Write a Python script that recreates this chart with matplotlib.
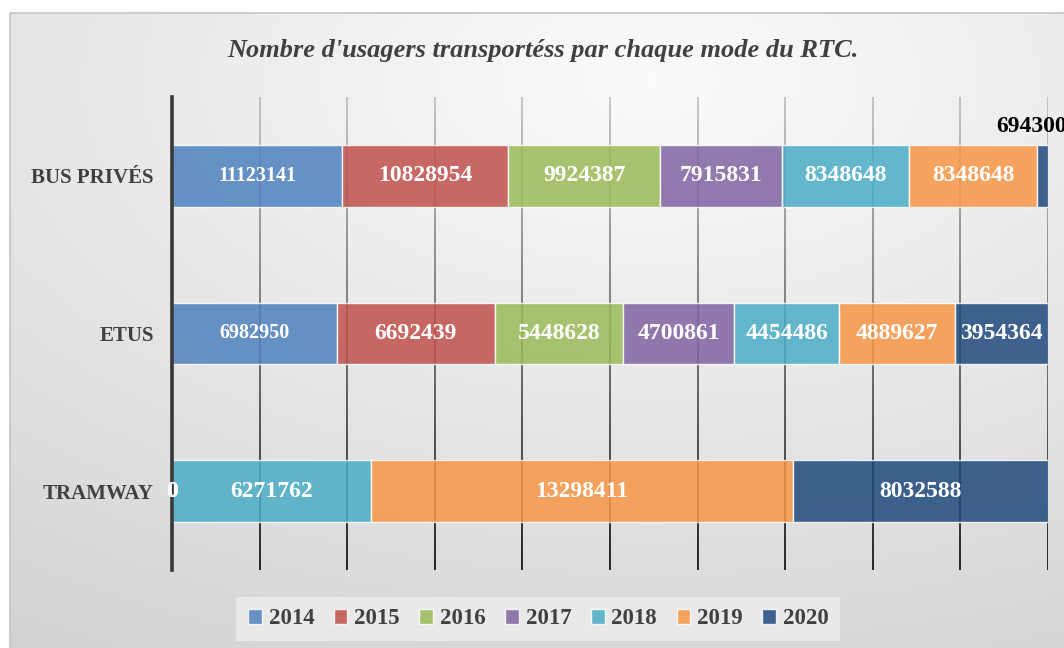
import numpy as np
import matplotlib
matplotlib.use('Agg')
import matplotlib.pyplot as plt
from matplotlib.collections import LineCollection
from matplotlib.patches import Patch, Rectangle

# Number of passengers per mode and per year (bottom to top on the chart)
modes = ['TRAMWAY', 'ETUS', 'BUS PRIVÉS']
years = ['2014', '2015', '2016', '2017', '2018', '2019', '2020']
y2014 = [0, 6982950, 11123141]
y2015 = [0, 6692439, 10828954]
y2016 = [0, 5448628, 9924387]
y2017 = [0, 4700861, 7915831]
y2018 = [6271762, 4454486, 8348648]
y2019 = [13298411, 4889627, 8348648]
y2020 = [8032588, 3954364, 694300]

colors = ['#4F81BD', '#C0504D', '#9BBB59', '#8064A2', '#4BACC6', '#F79646', '#1F497D']
textColor = '#404040'
serif = 'Liberation Serif'


def DrawBackground(fig) :
    # soft grey radial shading behind the whole chart area
    bg = fig.add_axes([0, 0, 1, 1], zorder=-10)
    W, H = 1064, 648
    xx, yy = np.meshgrid(np.arange(W), np.arange(H))
    d = np.sqrt(((xx - 650) / 900.0)**2 + ((yy - 80) / 500.0)**2)
    v = np.clip(0.985 - 0.12 * d, 0, 1)
    img = np.dstack([v, v, v])
    img[:13, :, :] = 1.0
    img[:, :10, :] = 1.0
    bg.imshow(img, extent=(0, W, H, 0), aspect='auto', interpolation='bilinear')
    bg.add_patch(Rectangle((10, 13), W + 20, H + 20, fill=False,
                           edgecolor='#c4c4c4', lw=1.2))
    bg.set_xlim(0, W)
    bg.set_ylim(H, 0)
    bg.axis('off')


def DrawGrid(ax, ticks, nSeg=80) :
    # vertical grid lines shading from grey at the top to black at the bottom
    ys = np.linspace(-0.5, 2.5, nSeg + 1)
    segs, cols = [], []
    for x in ticks :
        for i in range(nSeg) :
            segs.append([(x, ys[i]), (x, ys[i + 1])])
            g = 0.02 + 0.72 * (i + 0.5) / nSeg
            cols.append((g, g, g, 1.0))
    lc = LineCollection(segs, colors=cols, linewidths=1.2, zorder=1)
    ax.add_collection(lc)


def main() :
    data = np.array([y2014, y2015, y2016, y2017, y2018, y2019, y2020], dtype=float)
    totals = data.sum(axis=0)
    shares = data / totals

    fig = plt.figure(figsize=(10.64, 6.48), dpi=100)
    DrawBackground(fig)

    ax = fig.add_axes([172 / 1064, 1 - 570 / 648, 876 / 1064, 473 / 648])
    ax.patch.set_alpha(0)

    DrawGrid(ax, np.arange(1, 11) / 10.0)

    yPos = np.arange(len(modes))
    left = np.zeros(len(modes))
    for yearIndex, year in enumerate(years) :
        ax.barh(yPos, shares[yearIndex], left=left, height=0.39,
                color=colors[yearIndex], alpha=0.85, edgecolor='white',
                linewidth=1.0, zorder=2, label=year)
        for modeIndex in range(len(modes)) :
            value = int(data[yearIndex, modeIndex])
            share = shares[yearIndex, modeIndex]
            xc = left[modeIndex] + share / 2.0
            if 0 < share < 0.03 :
                # too thin to hold its label: put it above the bar
                ax.annotate(str(value), (xc, yPos[modeIndex] + 0.195),
                            xytext=(-8, 6), textcoords='offset points',
                            ha='center', va='bottom', fontsize=17,
                            fontweight='bold', family=serif, color='black',
                            zorder=5, annotation_clip=False)
            else :
                size = 14.5 if yearIndex == 0 else 17
                ax.text(xc, yPos[modeIndex], str(value), ha='center',
                        va='center', fontsize=size, fontweight='bold',
                        family=serif, color='white', zorder=5)
        left += shares[yearIndex]

    ax.set_xlim(0, 1)
    ax.set_ylim(-0.5, 2.5)
    ax.set_xticks([])
    ax.set_yticks(yPos)
    ax.set_yticklabels(modes, fontsize=15, fontweight='bold', family=serif,
                       color=textColor)
    ax.tick_params(axis='y', length=0, pad=13)
    for side in ('top', 'right', 'bottom') :
        ax.spines[side].set_visible(False)
    ax.spines['left'].set_linewidth(2.6)
    ax.spines['left'].set_color('#383838')
    ax.spines['left'].set_zorder(4)

    fig.text(0.510, 1 - 51 / 648, "Nombre d'usagers transportéss par chaque mode du RTC.",
             ha='center', va='center', fontsize=19, fontweight='bold',
             style='italic', family=serif, color=textColor)

    handles = [Patch(facecolor=c, alpha=0.85, edgecolor='white') for c in colors]
    leg = fig.legend(handles, years, loc='center', ncol=len(years),
                     bbox_to_anchor=(0.506, 1 - 619 / 648),
                     prop={'family': serif, 'weight': 'bold', 'size': 16.5},
                     handlelength=0.6, handleheight=0.6, handletextpad=0.3,
                     columnspacing=0.85, frameon=True, fancybox=False,
                     borderpad=0.5)
    leg.get_frame().set_facecolor('#ebebeb')
    leg.get_frame().set_edgecolor('none')
    leg.get_frame().set_alpha(0.9)
    for t in leg.get_texts() :
        t.set_color(textColor)

    fig.savefig('out.png', dpi=100)


if __name__ == '__main__' :
    main()
